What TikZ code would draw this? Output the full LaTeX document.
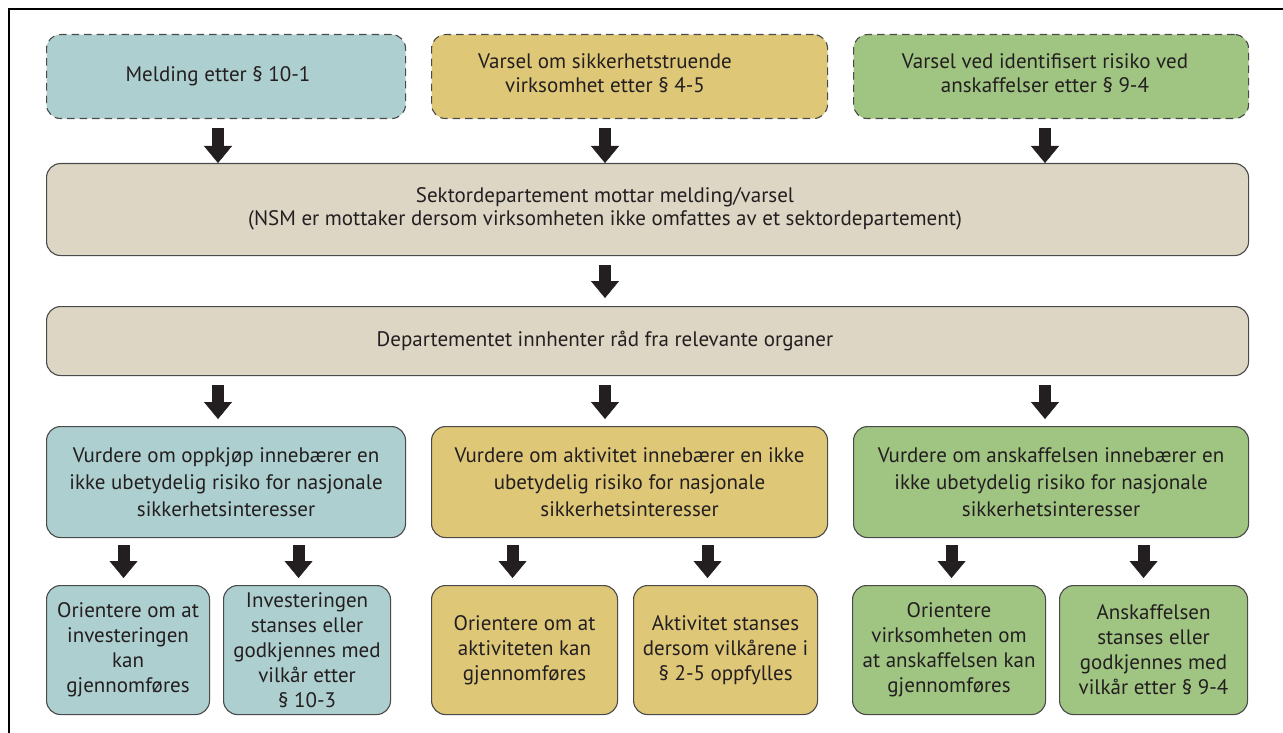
\documentclass[tikz,border=0pt]{standalone}
\usepackage{fontspec}
\setmainfont{PT Sans}
\usetikzlibrary{arrows.meta}

\definecolor{fillblue}{HTML}{AECFCF}
\definecolor{fillyellow}{HTML}{DFC778}
\definecolor{fillgreen}{HTML}{A0C482}
\definecolor{fillbeige}{HTML}{DDD6C5}
\definecolor{edge}{HTML}{4A4A4A}
\definecolor{ink}{HTML}{231F20}

\begin{document}
\begin{tikzpicture}[x=1pt,y=-1pt,
  box/.style={draw=edge, line width=1.1pt, rounded corners=14pt,
    anchor=north west, inner sep=0pt, text=ink, align=center,
    font=\fontsize{21}{25}\selectfont},
  dashbox/.style={box, dash pattern=on 7.5pt off 5pt},
  boxtext/.style={text=ink, align=center, inner sep=0pt,
    font=\fontsize{21}{23.5}\selectfont},
  midtext/.style={font=\fontsize{21}{27}\selectfont},
  bigarrow/.style={line width=12pt, draw=ink,
    -{Triangle[width=28pt,length=17pt,line width=0.4pt]}},
]
\useasboundingbox (0,0) rectangle (1283,733);

% frame
\draw[line width=1.2pt, black] (9,733) -- (9,9) -- (1283,9);

% incoming notices
\node[dashbox, fill=fillblue,   minimum width=359pt, minimum height=84pt] (n1) at (46,34) {};
\node[dashbox, fill=fillyellow, minimum width=396pt, minimum height=84pt] (n2) at (431,34) {};
\node[dashbox, fill=fillgreen,  minimum width=395pt, minimum height=84pt] (n3) at (853,34) {};
\node[boxtext] (n1t) at (218,76) {Melding etter § 10-1};
\node[boxtext] (n2t) at (605,73) {Varsel om sikkerhetstruende\\virksomhet etter § 4-5};
\node[boxtext] (n3t) at (1045,73) {Varsel ved identifisert risiko ved\\anskaffelser etter § 9-4};

% ministry steps
\node[box, fill=fillbeige, minimum width=1202pt, minimum height=92pt] (sek) at (46,163) {};
\node[boxtext] (sekt) at (605,209) {Sektordepartement mottar melding/varsel\\(NSM er mottaker dersom virksomheten ikke omfattes av et sektordepartement)};
\node[box, fill=fillbeige, minimum width=1202pt, minimum height=69pt] (dep) at (46,306) {};
\node[boxtext] (dept) at (605,341) {Departementet innhenter råd fra relevante organer};

% assessments
\node[box, midtext, fill=fillblue,   minimum width=359pt, minimum height=111pt] (va) at (46,426)
  {Vurdere om oppkjøp innebærer en\\ikke ubetydelig risiko for nasjonale\\sikkerhetsinteresser};
\node[box, midtext, fill=fillyellow, minimum width=396pt, minimum height=111pt] (vb) at (431,426)
  {Vurdere om aktivitet innebærer en ikke\\ubetydelig risiko for nasjonale\\sikkerhetsinteresser};
\node[box, midtext, fill=fillgreen,  minimum width=395pt, minimum height=111pt] (vc) at (853,426)
  {Vurdere om anskaffelsen innebærer en\\ikke ubetydelig risiko for nasjonale\\sikkerhetsinteresser};

% outcomes
\node[box, fill=fillblue,   minimum width=163pt, minimum height=129pt] (b1) at (46,585)
  {Orientere om at\\investeringen\\kan\\gjennomføres};
\node[box, fill=fillblue,   minimum width=167pt, minimum height=129pt] (b2) at (223,585)
  {Investeringen\\stanses eller\\godkjennes med\\vilkår etter\\§ 10-3};
\node[box, fill=fillyellow, minimum width=186pt, minimum height=129pt] (b3) at (431,585)
  {Orientere om at\\aktiviteten kan\\gjennomføres};
\node[box, fill=fillyellow, minimum width=184pt, minimum height=129pt] (b4) at (633,585)
  {Aktivitet stanses\\dersom vilkårene i\\§ 2-5 oppfylles};
\node[box, fill=fillgreen,  minimum width=193pt, minimum height=129pt] (b5) at (852,585)
  {Orientere\\virksomheten om\\at anskaffelsen kan\\gjennomføres};
\node[box, fill=fillgreen,  minimum width=188pt, minimum height=129pt] (b6) at (1059,585)
  {Anskaffelsen\\stanses eller\\godkjennes med\\vilkår etter § 9-4};

% arrows: notices -> sector ministry
\draw[bigarrow, shorten <=9pt] (n1t |- n1.south) -- (n1t |- sek.north);
\draw[bigarrow, shorten <=9pt] (n2t |- n2.south) -- (n2t |- sek.north);
\draw[bigarrow, shorten <=9pt] (n3t |- n3.south) -- (n3t |- sek.north);

% sector ministry -> advice
\draw[bigarrow, shorten <=9pt, shorten >=8pt] (sekt |- sek.south) -- (sekt |- dep.north);

% advice -> assessments
\draw[bigarrow, shorten <=9pt, shorten >=7pt] (n1t |- dep.south) -- (n1t |- va.north);
\draw[bigarrow, shorten <=9pt, shorten >=7pt] (n2t |- dep.south) -- (n2t |- vb.north);
\draw[bigarrow, shorten <=9pt, shorten >=7pt] (n3t |- dep.south) -- (n3t |- vc.north);

% assessments -> outcomes
\draw[bigarrow, shorten <=7pt, shorten >=7pt] ([xshift=-4.5pt]b1.north |- va.south) -- ([xshift=-4.5pt]b1.north);
\draw[bigarrow, shorten <=7pt, shorten >=7pt] ([xshift=-8.5pt]b2.north |- va.south) -- ([xshift=-8.5pt]b2.north);
\draw[bigarrow, shorten <=7pt, shorten >=7pt] ([xshift=-12pt]b3.north |- vb.south) -- ([xshift=-12pt]b3.north);
\draw[bigarrow, shorten <=7pt, shorten >=7pt] ([xshift=-18pt]b4.north |- vb.south) -- ([xshift=-18pt]b4.north);
\draw[bigarrow, shorten <=7pt, shorten >=7pt] ([xshift=2.5pt]b5.north |- vc.south) -- ([xshift=2.5pt]b5.north);
\draw[bigarrow, shorten <=7pt, shorten >=7pt] ([xshift=-10pt]b6.north |- vc.south) -- ([xshift=-10pt]b6.north);
\end{tikzpicture}
\end{document}
